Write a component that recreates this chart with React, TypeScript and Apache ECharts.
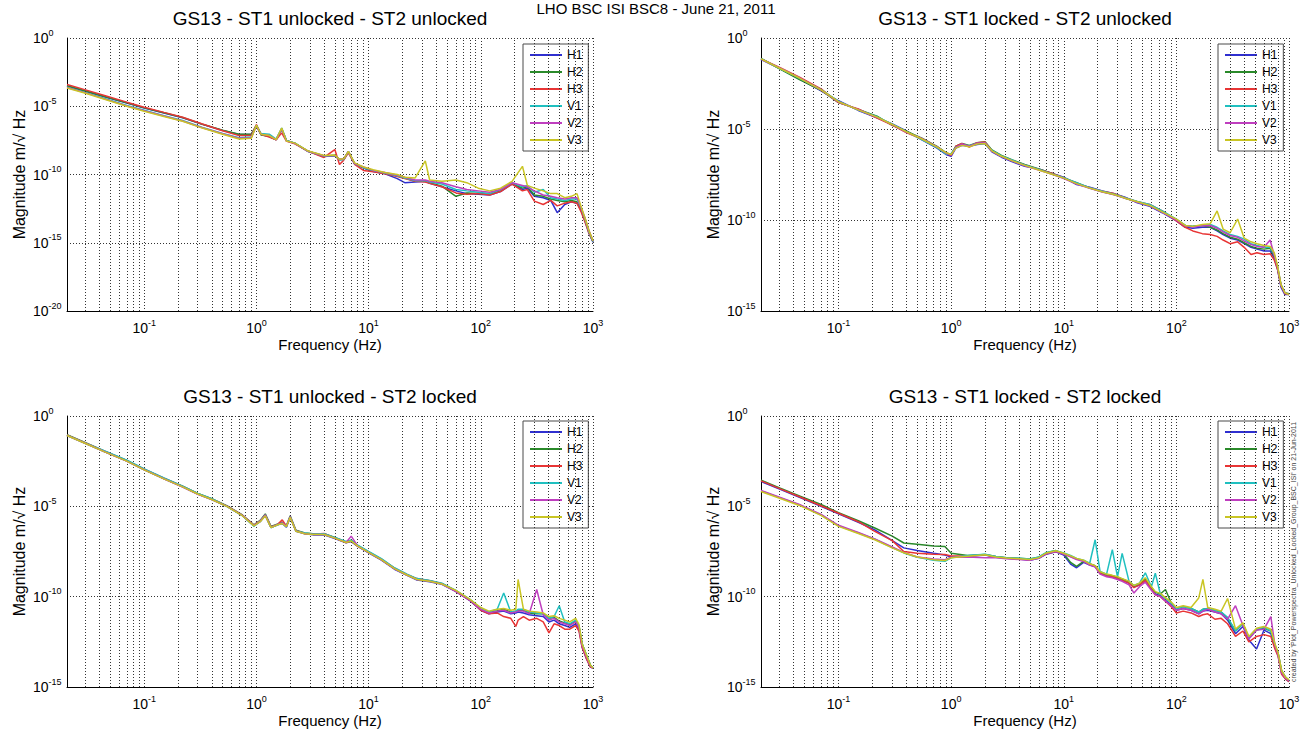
import React, { useEffect, useRef } from 'react';
import * as echarts from 'echarts';

// ---------- text ----------
const mainTitle = 'LHO BSC ISI BSC8 - June 21, 2011';
const panelTitles = [
  'GS13 - ST1 unlocked - ST2 unlocked',
  'GS13 - ST1 locked - ST2 unlocked',
  'GS13 - ST1 unlocked - ST2 locked',
  'GS13 - ST1 locked - ST2 locked',
];
const creditText = "created by 'Plot_Powerspectra_Unlocked_Locked_Group_BSC_ISI' on 21-Jun-2011";
const xAxisName = 'Frequency (Hz)';
const yAxisName = 'Magnitude m/\u221A Hz';

const seriesNames = ['H1', 'H2', 'H3', 'V1', 'V2', 'V3'];
const seriesColors = ['#2f2fd0', '#2a8a2a', '#e83535', '#20c0c0', '#bf3fbf', '#c9c524'];

// frequency axis extent (Hz) and minor grid frequencies
const freqMin = 0.0205;
const freqMax = 1000;
const minorFreqs = [
  0.03, 0.04, 0.05, 0.06, 0.07, 0.08, 0.09,
  0.2, 0.3, 0.4, 0.5, 0.6, 0.7, 0.8, 0.9,
  2, 3, 4, 5, 6, 7, 8, 9,
  20, 30, 40, 50, 60, 70, 80, 90,
  200, 300, 400, 500, 600, 700, 800, 900,
];
// y axis: log10 of magnitude (decade exponents)
const yMinTopLeft = -20;
const yMinOthers = -15;
const yMax = 0;
const yStep = 5;

// ---------- Panel A: ST1 unlocked - ST2 unlocked (values = log10 magnitude) ----------
const freqA = [0.0205, 0.03, 0.045, 0.07, 0.1, 0.15, 0.22, 0.33, 0.5, 0.7, 0.9, 1.0, 1.1, 1.3, 1.5, 1.68, 1.85, 2.2, 2.9, 4.0, 5.0, 5.5, 6.0, 6.6, 7.5, 9, 11, 14, 18, 21, 26, 32, 35, 45, 60, 75, 95, 120, 150, 190, 235, 260, 300, 360, 420, 480, 560, 640, 720, 780, 850, 920, 1000];
const aH1 = [-3.52, -3.90, -4.32, -4.76, -5.13, -5.50, -5.85, -6.33, -6.78, -7.07, -7.05, -6.45, -7.08, -7.22, -7.45, -6.70, -7.52, -7.72, -8.32, -8.68, -8.62, -8.92, -8.88, -8.35, -9.22, -9.52, -9.78, -9.95, -10.30, -10.60, -10.55, -10.50, -10.65, -10.90, -11.20, -11.40, -11.45, -11.50, -11.25, -10.70, -11.10, -11.00, -11.60, -11.70, -11.90, -12.80, -12.20, -12.00, -12.10, -12.60, -13.40, -14.30, -14.95];
const aH2 = [-3.50, -3.88, -4.30, -4.75, -5.12, -5.48, -5.82, -6.32, -6.75, -7.05, -7.05, -6.40, -7.10, -7.20, -7.45, -6.65, -7.50, -7.70, -8.30, -8.65, -8.60, -8.90, -8.90, -8.35, -9.20, -9.50, -9.75, -9.90, -10.10, -10.25, -10.50, -10.50, -10.60, -10.85, -11.60, -11.35, -11.40, -11.45, -11.20, -10.65, -11.00, -10.90, -11.50, -11.60, -11.80, -11.90, -12.00, -11.90, -12.00, -12.50, -13.30, -14.20, -14.90];
const aH3 = [-3.41, -3.80, -4.23, -4.70, -5.07, -5.45, -5.80, -6.30, -6.80, -7.15, -7.15, -6.35, -7.05, -7.25, -7.45, -6.95, -7.55, -7.75, -8.30, -8.75, -8.17, -9.27, -8.95, -8.40, -9.25, -9.70, -9.80, -9.95, -10.15, -10.30, -10.50, -10.55, -10.65, -10.90, -11.35, -11.45, -11.40, -11.50, -11.25, -10.70, -11.20, -11.10, -11.95, -12.20, -11.90, -12.30, -12.10, -12.00, -12.10, -12.70, -13.50, -14.30, -14.90];
const aV1 = [-3.60, -4.00, -4.45, -4.95, -5.30, -5.70, -6.05, -6.55, -7.00, -7.30, -7.25, -6.40, -7.00, -7.05, -7.40, -6.60, -7.50, -7.70, -8.30, -8.65, -8.60, -8.90, -8.90, -8.30, -9.20, -9.50, -9.70, -9.90, -10.10, -10.25, -10.45, -10.45, -10.55, -10.70, -11.10, -11.20, -11.30, -11.40, -11.10, -10.60, -10.90, -10.80, -11.30, -11.10, -11.70, -11.80, -11.90, -11.80, -11.80, -12.40, -13.30, -14.20, -14.90];
const aV2 = [-3.62, -4.02, -4.48, -4.98, -5.33, -5.72, -6.08, -6.58, -7.02, -7.35, -7.30, -6.45, -7.05, -7.15, -7.45, -6.65, -7.55, -7.72, -8.30, -8.62, -8.60, -8.88, -8.85, -8.30, -9.20, -9.45, -9.70, -9.85, -10.05, -10.20, -10.40, -10.40, -10.50, -10.60, -10.90, -11.10, -11.20, -11.30, -11.10, -10.60, -10.80, -10.90, -11.20, -11.50, -11.60, -11.70, -11.80, -11.70, -11.70, -12.40, -13.20, -14.10, -14.85];
const aV3 = [-3.66, -4.05, -4.50, -5.00, -5.37, -5.75, -6.10, -6.60, -7.05, -7.40, -7.35, -6.40, -7.05, -7.15, -7.45, -6.60, -7.55, -7.70, -8.28, -8.60, -8.58, -8.88, -8.85, -8.30, -9.15, -9.45, -9.65, -9.85, -10.00, -10.20, -10.25, -9.00, -10.40, -10.50, -10.40, -10.60, -11.00, -11.20, -11.00, -10.50, -9.40, -10.80, -11.00, -11.20, -11.40, -11.40, -11.70, -11.60, -11.40, -12.30, -13.20, -14.10, -14.85];

// ---------- Panel B: ST1 locked - ST2 unlocked ----------
const freqB = [0.0205, 0.03, 0.045, 0.07, 0.1, 0.15, 0.22, 0.3, 0.4, 0.55, 0.75, 0.9, 1.0, 1.1, 1.25, 1.45, 1.7, 2.0, 2.3, 2.8, 3.5, 4.5, 6, 8, 10, 13, 17, 22, 28, 35, 45, 58, 75, 100, 120, 140, 170, 200, 230, 260, 300, 350, 400, 460, 520, 600, 680, 740, 790, 850, 920, 1000];
const bH1 = [-1.18, -1.68, -2.25, -2.90, -3.45, -3.98, -4.38, -4.72, -5.10, -5.60, -6.05, -6.40, -6.50, -6.05, -5.90, -5.95, -5.85, -5.80, -6.25, -6.55, -6.80, -7.05, -7.20, -7.45, -7.65, -8.05, -8.20, -8.40, -8.55, -8.75, -9.05, -9.25, -9.60, -10.05, -10.40, -10.45, -10.40, -10.40, -10.60, -10.80, -11.00, -11.10, -11.30, -11.50, -11.60, -11.70, -11.70, -12.10, -12.70, -13.70, -14.10, -14.10];
const bH2 = [-1.12, -1.70, -2.28, -2.88, -3.55, -3.92, -4.30, -4.80, -5.12, -5.50, -5.95, -6.30, -6.40, -5.95, -5.80, -5.90, -5.75, -5.70, -6.15, -6.45, -6.70, -6.95, -7.20, -7.45, -7.70, -7.95, -8.25, -8.45, -8.60, -8.80, -9.00, -9.20, -9.55, -10.00, -10.30, -10.35, -10.30, -10.40, -10.55, -10.75, -10.95, -11.05, -11.25, -11.45, -11.55, -11.60, -11.55, -12.00, -12.60, -13.60, -14.00, -14.05];
const bH3 = [-1.15, -1.62, -2.15, -2.80, -3.55, -3.90, -4.40, -4.78, -5.20, -5.55, -6.00, -6.35, -6.45, -5.95, -5.80, -6.00, -5.75, -5.72, -6.20, -6.50, -6.75, -6.98, -7.22, -7.45, -7.68, -7.98, -8.22, -8.42, -8.55, -8.78, -9.00, -9.15, -9.50, -10.05, -10.40, -10.60, -10.75, -10.80, -10.90, -11.10, -11.30, -11.20, -11.50, -11.90, -11.80, -11.90, -11.85, -12.20, -12.70, -13.60, -14.05, -14.10];
const bV1 = [-1.14, -1.66, -2.22, -2.84, -3.48, -3.96, -4.33, -4.74, -5.14, -5.58, -6.02, -6.38, -6.35, -6.00, -5.88, -5.92, -5.80, -5.78, -6.18, -6.48, -6.72, -6.98, -7.22, -7.48, -7.68, -7.95, -8.22, -8.42, -8.58, -8.78, -8.98, -9.15, -9.50, -9.95, -10.30, -10.35, -10.30, -10.25, -10.40, -10.60, -10.80, -10.90, -11.05, -11.30, -11.40, -11.50, -11.50, -11.90, -12.55, -13.55, -14.00, -14.10];
const bV2 = [-1.16, -1.64, -2.18, -2.86, -3.52, -3.94, -4.36, -4.76, -5.18, -5.52, -5.98, -6.32, -6.42, -6.02, -5.82, -5.95, -5.78, -5.76, -6.22, -6.52, -6.76, -7.02, -7.26, -7.50, -7.72, -8.02, -8.26, -8.46, -8.62, -8.80, -9.02, -9.22, -9.58, -10.00, -10.32, -10.38, -10.32, -10.30, -10.45, -10.65, -10.85, -10.95, -11.15, -11.35, -11.45, -11.50, -11.10, -11.95, -12.55, -13.60, -14.00, -14.10];
const bV3 = [-1.15, -1.66, -2.20, -2.85, -3.50, -3.95, -4.35, -4.75, -5.15, -5.55, -6.00, -6.30, -6.40, -6.05, -5.90, -5.98, -5.82, -5.80, -6.20, -6.50, -6.75, -7.00, -7.25, -7.50, -7.70, -8.00, -8.25, -8.45, -8.60, -8.80, -9.00, -9.20, -9.55, -9.95, -10.30, -10.35, -10.25, -10.20, -9.50, -10.50, -10.70, -9.95, -11.00, -11.20, -11.30, -11.40, -11.45, -11.80, -12.50, -13.55, -14.00, -14.10];

// ---------- Panel C: ST1 unlocked - ST2 locked ----------
const freqC = [0.0205, 0.03, 0.045, 0.07, 0.1, 0.15, 0.22, 0.3, 0.4, 0.55, 0.75, 0.95, 1.08, 1.2, 1.35, 1.55, 1.7, 1.85, 2.0, 2.25, 2.7, 3.2, 4.0, 5.0, 6.3, 7.0, 8, 10, 13, 17, 22, 27, 35, 45, 60, 80, 100, 118, 140, 160, 185, 205, 215, 240, 270, 315, 360, 405, 450, 500, 560, 620, 700, 750, 800, 870, 950, 1000];
const cH1 = [-1.08, -1.52, -2.00, -2.50, -2.98, -3.48, -3.92, -4.32, -4.62, -5.02, -5.52, -6.08, -5.85, -5.50, -6.18, -6.02, -5.95, -6.15, -5.60, -6.38, -6.52, -6.58, -6.58, -6.78, -7.02, -6.95, -7.22, -7.58, -7.98, -8.48, -8.82, -9.08, -9.18, -9.32, -9.72, -10.22, -10.75, -10.95, -10.85, -10.80, -10.95, -10.90, -10.85, -10.90, -11.00, -11.05, -11.10, -11.40, -11.30, -11.50, -11.60, -11.70, -11.50, -11.80, -12.80, -13.40, -13.90, -13.95];
const cH2 = [-1.04, -1.48, -1.96, -2.46, -2.94, -3.44, -3.88, -4.28, -4.58, -4.98, -5.48, -6.02, -5.78, -5.42, -6.12, -5.98, -5.88, -6.08, -5.52, -6.32, -6.48, -6.52, -6.52, -6.72, -6.98, -6.88, -7.18, -7.52, -7.92, -8.42, -8.78, -9.02, -9.12, -9.28, -9.68, -10.18, -10.68, -10.88, -10.78, -10.70, -10.85, -10.80, -10.75, -10.75, -10.90, -10.95, -10.95, -11.20, -11.15, -11.35, -11.45, -11.55, -11.35, -11.65, -12.60, -13.20, -13.80, -13.95];
const cH3 = [-1.05, -1.50, -1.98, -2.48, -2.96, -3.46, -3.90, -4.30, -4.60, -5.00, -5.50, -6.05, -5.80, -5.50, -6.15, -6.00, -5.75, -6.10, -5.60, -6.35, -6.50, -6.55, -6.50, -6.75, -7.00, -6.92, -7.20, -7.55, -7.95, -8.45, -8.80, -9.00, -9.12, -9.28, -9.70, -10.20, -10.75, -10.95, -10.90, -11.10, -11.20, -11.65, -11.30, -11.10, -11.30, -11.20, -11.40, -12.00, -11.50, -11.60, -11.80, -11.80, -11.60, -11.90, -12.80, -13.40, -13.90, -13.95];
const cV1 = [-1.06, -1.50, -1.95, -2.45, -2.93, -3.43, -3.88, -4.28, -4.58, -5.02, -5.52, -6.10, -5.82, -5.48, -6.18, -6.02, -5.92, -6.12, -5.58, -6.36, -6.48, -6.53, -6.52, -6.72, -6.95, -6.88, -7.15, -7.50, -7.90, -8.40, -8.75, -9.00, -9.10, -9.25, -9.65, -10.15, -10.65, -10.85, -10.70, -9.80, -10.85, -10.80, -10.70, -10.70, -10.85, -10.90, -10.95, -11.20, -11.10, -10.50, -11.40, -11.50, -11.30, -11.60, -12.60, -13.20, -13.80, -13.95];
const cV2 = [-1.07, -1.51, -1.99, -2.50, -2.97, -3.47, -3.93, -4.33, -4.62, -5.00, -5.50, -6.06, -5.82, -5.47, -6.16, -6.00, -5.92, -6.10, -5.56, -6.36, -6.52, -6.56, -6.56, -6.76, -7.00, -6.65, -7.20, -7.55, -7.95, -8.45, -8.80, -9.05, -9.15, -9.30, -9.70, -10.20, -10.70, -10.90, -10.80, -10.75, -10.90, -10.85, -10.80, -10.80, -10.95, -9.60, -11.00, -11.30, -11.20, -11.40, -11.50, -11.60, -11.40, -11.70, -12.70, -13.30, -13.85, -13.95];
const cV3 = [-1.08, -1.52, -2.00, -2.50, -2.98, -3.48, -3.92, -4.32, -4.62, -5.02, -5.52, -6.08, -5.85, -5.52, -6.18, -6.02, -5.95, -6.12, -5.60, -6.38, -6.52, -6.56, -6.56, -6.76, -7.00, -6.92, -7.20, -7.55, -7.95, -8.45, -8.80, -9.05, -9.15, -9.30, -9.65, -10.15, -10.60, -10.80, -10.70, -10.65, -10.75, -10.70, -9.05, -10.70, -10.80, -10.85, -10.90, -11.10, -11.05, -11.20, -11.30, -11.40, -11.20, -11.55, -12.60, -13.20, -13.80, -13.95];

// ---------- Panel D: ST1 locked - ST2 locked ----------
const freqD = [0.0205, 0.03, 0.045, 0.07, 0.1, 0.15, 0.21, 0.3, 0.38, 0.5, 0.7, 0.88, 1.0, 1.4, 2.0, 2.5, 3.1, 4.0, 5.0, 6.0, 7.0, 8.5, 10, 11.5, 13, 15, 17, 19, 21, 24, 27, 30, 33, 38, 42, 47, 53, 60, 65, 72, 80, 90, 100, 115, 135, 158, 172, 190, 220, 250, 285, 335, 390, 440, 515, 600, 690, 750, 800, 860, 930, 1000];
const dH1 = [-3.62, -4.05, -4.50, -5.00, -5.42, -5.88, -6.30, -6.90, -7.30, -7.45, -7.60, -7.70, -7.80, -7.78, -7.70, -7.82, -7.88, -7.92, -7.98, -7.88, -7.65, -7.52, -7.70, -8.20, -8.40, -8.10, -8.25, -8.35, -8.70, -8.85, -8.90, -9.00, -9.10, -9.25, -9.45, -9.35, -9.10, -9.55, -9.85, -9.95, -10.20, -10.45, -10.75, -10.65, -10.75, -10.95, -10.80, -10.75, -10.85, -10.95, -11.30, -12.05, -11.65, -12.40, -12.90, -11.85, -12.05, -12.80, -13.25, -14.25, -14.55, -14.70];
const dH2 = [-3.55, -3.98, -4.42, -4.90, -5.35, -5.80, -6.20, -6.65, -7.03, -7.10, -7.20, -7.22, -7.60, -7.72, -7.66, -7.78, -7.84, -7.88, -7.92, -7.82, -7.58, -7.45, -7.62, -8.10, -8.32, -8.05, -8.18, -8.28, -8.65, -8.78, -8.84, -8.92, -9.02, -9.18, -9.40, -9.28, -9.02, -9.48, -9.75, -9.85, -9.60, -10.35, -10.65, -10.55, -10.65, -10.85, -10.70, -10.65, -10.75, -10.85, -11.20, -11.90, -11.50, -12.30, -11.85, -11.75, -11.90, -12.70, -13.10, -14.10, -14.45, -14.65];
const dH3 = [-3.59, -4.02, -4.47, -4.97, -5.38, -5.85, -6.39, -6.90, -7.50, -7.60, -7.65, -7.67, -7.75, -7.75, -7.68, -7.80, -7.86, -7.90, -7.95, -7.85, -7.62, -7.50, -7.62, -7.78, -7.92, -8.02, -8.22, -8.32, -8.72, -8.85, -8.90, -9.00, -9.10, -9.25, -9.50, -9.35, -9.10, -9.60, -9.90, -10.00, -10.25, -10.55, -10.90, -10.80, -10.90, -11.10, -11.00, -10.95, -11.25, -11.20, -11.50, -12.20, -11.90, -12.50, -12.20, -12.10, -12.20, -12.90, -13.30, -14.30, -14.55, -14.70];
const dV1 = [-4.15, -4.52, -4.92, -5.48, -6.08, -6.48, -6.82, -7.28, -7.58, -7.82, -7.98, -8.04, -7.85, -7.72, -7.65, -7.78, -7.84, -7.88, -7.92, -7.80, -7.55, -7.45, -7.58, -7.72, -7.88, -7.98, -8.15, -6.85, -8.60, -8.75, -7.40, -8.90, -7.60, -9.15, -9.38, -9.25, -8.68, -9.45, -8.70, -9.85, -10.10, -10.35, -10.65, -10.55, -10.65, -10.85, -10.70, -10.65, -10.75, -10.85, -11.15, -11.90, -11.50, -12.25, -11.80, -11.70, -11.90, -12.65, -13.15, -14.15, -14.45, -14.65];
const dV2 = [-4.12, -4.50, -4.90, -5.45, -6.05, -6.45, -6.80, -7.25, -7.55, -7.80, -7.92, -7.95, -7.82, -7.80, -7.85, -7.85, -7.90, -7.94, -7.98, -7.88, -7.62, -7.50, -7.65, -7.80, -7.95, -8.05, -8.25, -8.35, -8.75, -8.90, -8.95, -9.05, -9.15, -9.35, -9.80, -9.45, -9.20, -9.65, -9.90, -10.00, -10.25, -10.50, -10.75, -10.65, -10.75, -10.95, -10.80, -10.70, -10.85, -10.95, -11.25, -10.50, -11.60, -12.35, -11.85, -11.80, -11.10, -12.70, -13.20, -14.20, -14.50, -14.65];
const dV3 = [-4.18, -4.55, -4.95, -5.50, -6.11, -6.50, -6.85, -7.30, -7.57, -7.80, -7.95, -8.00, -7.85, -7.76, -7.68, -7.80, -7.86, -7.90, -7.94, -7.84, -7.58, -7.46, -7.60, -7.74, -7.88, -7.98, -8.18, -8.28, -8.62, -8.75, -8.82, -8.90, -9.00, -9.15, -9.38, -9.25, -8.95, -9.45, -9.72, -9.82, -10.05, -10.30, -10.60, -10.50, -10.60, -10.07, -9.04, -10.60, -10.70, -10.80, -10.10, -11.80, -11.45, -12.20, -11.75, -11.65, -11.80, -12.60, -13.10, -14.10, -14.45, -14.60];

const FONT = '"Liberation Sans", Arial, Helvetica, sans-serif';

const panels = [
  { freqs: freqA, values: [aH1, aH2, aH3, aV1, aV2, aV3], yMin: yMinTopLeft, title: panelTitles[0],
    grid: { left: 67, top: 38, width: 526, height: 273 }, legendPos: { left: 523, top: 44 } },
  { freqs: freqB, values: [bH1, bH2, bH3, bV1, bV2, bV3], yMin: yMinOthers, title: panelTitles[1],
    grid: { left: 761, top: 38, width: 528, height: 273 }, legendPos: { left: 1218, top: 44 } },
  { freqs: freqC, values: [cH1, cH2, cH3, cV1, cV2, cV3], yMin: yMinOthers, title: panelTitles[2],
    grid: { left: 67, top: 416, width: 526, height: 271 }, legendPos: { left: 523, top: 421 } },
  { freqs: freqD, values: [dH1, dH2, dH3, dV1, dV2, dV3], yMin: yMinOthers, title: panelTitles[3],
    grid: { left: 761, top: 416, width: 528, height: 271 }, legendPos: { left: 1218, top: 421 } },
];

const richExp = {
  b: { fontSize: 14, lineHeight: 20, fontFamily: FONT, color: '#000' },
  s: { fontSize: 9, lineHeight: 9, verticalAlign: 'top', fontFamily: FONT, color: '#000' },
};

const gridLineStyle = { color: '#333333', type: [1, 2], width: 1 };

function buildOption() {
  const grid: any[] = [];
  const xAxis: any[] = [];
  const yAxis: any[] = [];
  const series: any[] = [];
  const legend: any[] = [];
  const graphic: any[] = [];

  panels.forEach((p, i) => {
    grid.push({ ...p.grid, outerBoundsMode: 'none', containLabel: false });
    xAxis.push({
      type: 'log',
      logBase: 10,
      gridIndex: i,
      min: freqMin,
      max: freqMax,
      name: xAxisName,
      nameLocation: 'middle',
      nameGap: 26,
      nameTextStyle: { fontSize: 15, fontFamily: FONT, color: '#000' },
      axisLine: { show: true, onZero: false, lineStyle: { color: '#000', width: 1 } },
      axisTick: { show: false },
      axisLabel: {
        showMinLabel: false,
        margin: 7,
        formatter: (v: number) => `{b|10}{s|${Math.round(Math.log10(v))}}`,
        rich: richExp,
      },
      splitLine: { show: true, lineStyle: gridLineStyle },
    });
    yAxis.push({
      type: 'value',
      gridIndex: i,
      min: p.yMin,
      max: yMax,
      interval: yStep,
      name: yAxisName,
      nameLocation: 'middle',
      nameGap: 40,
      nameTextStyle: { fontSize: 16, fontFamily: FONT, color: '#000' },
      axisLine: { show: true, onZero: false, lineStyle: { color: '#000', width: 1 } },
      axisTick: { show: false },
      axisLabel: {
        margin: 34,
        align: 'left',
        formatter: (v: number) => `{b|10}{s|${Math.round(v)}}`,
        rich: richExp,
      },
      splitLine: { show: true, lineStyle: gridLineStyle },
    });

    // minor frequency grid lines
    series.push({
      type: 'line',
      name: '__grid' + i,
      xAxisIndex: i,
      yAxisIndex: i,
      data: [],
      silent: true,
      z: 1,
      markLine: {
        silent: true,
        symbol: ['none', 'none'],
        label: { show: false },
        lineStyle: gridLineStyle,
        emphasis: { disabled: true },
        data: minorFreqs.map((f) => ({ xAxis: f })),
      },
    });

    p.values.forEach((vals, k) => {
      series.push({
        type: 'line',
        name: seriesNames[k],
        xAxisIndex: i,
        yAxisIndex: i,
        symbol: 'none',
        showSymbol: false,
        z: 3 + k,
        lineStyle: { color: seriesColors[k], width: 1.5 },
        itemStyle: { color: seriesColors[k] },
        emphasis: { disabled: true },
        data: p.freqs.map((f, j) => [f, vals[j]]),
      });
    });

    legend.push({
      data: seriesNames,
      orient: 'vertical',
      left: p.legendPos.left,
      top: p.legendPos.top,
      icon: 'rect',
      itemWidth: 32,
      itemHeight: 2,
      itemGap: 3,
      padding: [4, 6, 4, 7],
      borderColor: '#4a4a4a',
      borderWidth: 1,
      backgroundColor: '#ffffff',
      selectedMode: false,
      textStyle: { fontSize: 12, lineHeight: 14, fontFamily: FONT, color: '#000' },
    });

    graphic.push({
      type: 'text',
      x: p.grid.left + p.grid.width / 2,
      y: p.grid.top - 20,
      style: {
        text: p.title,
        font: `19px ${FONT}`,
        fill: '#000',
        align: 'center',
        verticalAlign: 'middle',
        textAlign: 'center',
        textVerticalAlign: 'middle',
      },
    });
  });

  graphic.push({
    type: 'text',
    x: 656,
    y: 1,
    style: {
      text: mainTitle,
      font: `15px ${FONT}`,
      fill: '#000',
      align: 'center',
      verticalAlign: 'top',
      textAlign: 'center',
      textVerticalAlign: 'top',
    },
  });
  graphic.push({
    type: 'text',
    x: 1293,
    y: 552,
    rotation: Math.PI / 2,
    style: {
      text: creditText,
      font: `7px ${FONT}`,
      fill: '#444',
      align: 'center',
      verticalAlign: 'middle',
      textAlign: 'center',
      textVerticalAlign: 'middle',
    },
  });

  return {
    animation: false,
    backgroundColor: '#ffffff',
    textStyle: { fontFamily: FONT },
    grid,
    xAxis,
    yAxis,
    series,
    legend,
    graphic,
    tooltip: { show: false },
  };
}

export default function App() {
  const ref = useRef<HTMLDivElement>(null);
  useEffect(() => {
    if (!ref.current) return;
    const chart = echarts.init(ref.current, null, { renderer: 'svg' });
    chart.setOption(buildOption() as any);
    return () => {
      chart.dispose();
    };
  }, []);
  return (
    <div
      ref={ref}
      style={{ position: 'absolute', left: 0, top: 0, width: 1302, height: 736, background: '#fff' }}
    />
  );
}
